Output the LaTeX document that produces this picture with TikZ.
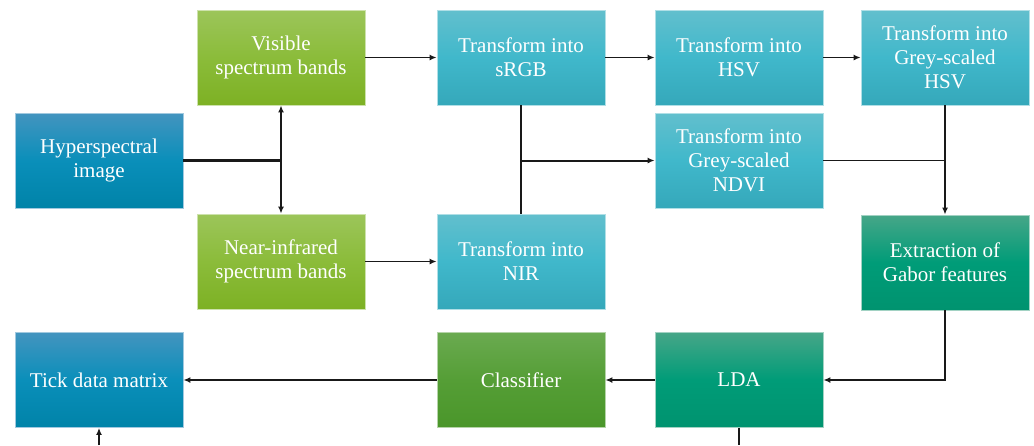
\documentclass[tikz,border=0pt]{standalone}
\usepackage{fontspec}
\setmainfont{Liberation Serif}
\usetikzlibrary{arrows.meta}
\definecolor{bluetop}{HTML}{4394BF}
\definecolor{bluemid}{HTML}{0A8FBA}
\definecolor{bluebot}{HTML}{0083A8}
\definecolor{greentop}{HTML}{9CC55A}
\definecolor{greenmid}{HTML}{8BBC3A}
\definecolor{greenbot}{HTML}{7DB124}
\definecolor{tealtop}{HTML}{62BFCD}
\definecolor{tealmid}{HTML}{40B8CB}
\definecolor{tealbot}{HTML}{35A8BA}
\definecolor{dtealtop}{HTML}{46A688}
\definecolor{dtealmid}{HTML}{009C78}
\definecolor{dtealbot}{HTML}{00936F}
\definecolor{clstop}{HTML}{6AAA50}
\definecolor{clsmid}{HTML}{559E36}
\definecolor{clsbot}{HTML}{4A962A}
\tikzset{
  box/.style={rectangle, minimum width=168pt, minimum height=95pt, inner sep=2pt,
    align=center, text=white, font=\fontsize{21}{24}\selectfont, line width=0.8pt},
  bluebox/.style={box, draw=bluetop!50!white, top color=bluetop, bottom color=bluebot, middle color=bluemid},
  greenbox/.style={box, draw=greentop!50!white, top color=greentop, bottom color=greenbot, middle color=greenmid},
  tealbox/.style={box, draw=tealtop!50!white, top color=tealtop, bottom color=tealbot, middle color=tealmid},
  dtealbox/.style={box, draw=dtealtop!50!white, top color=dtealtop, bottom color=dtealbot, middle color=dtealmid},
  clsbox/.style={box, draw=clstop!50!white, top color=clstop, bottom color=clsbot, middle color=clsmid},
  conn/.style={line width=1.6pt, black!90},
  arr/.style={conn, -{Latex[length=7pt,width=6pt]}}
}
\begin{document}
\begin{tikzpicture}[x=1pt,y=-1pt]
\useasboundingbox (0,0) rectangle (1034,445);
\node[bluebox] (hyp) at (99,160.5) {Hyperspectral\\image};
\node[greenbox] (vis) at (281,57.5) {Visible\\spectrum bands};
\node[greenbox] (nirb) at (281,261.5) {Near-infrared\\spectrum bands};
\node[tealbox] (srgb) at (521,57.5) {Transform into\\sRGB};
\node[tealbox] (hsv) at (739,57.5) {Transform into\\HSV};
\node[tealbox] (ghsv) at (945,57.5) {Transform into\\Grey-scaled\\HSV};
\node[tealbox] (ndvi) at (739,160.5) {Transform into\\Grey-scaled\\NDVI};
\node[tealbox] (nir) at (521,261.5) {Transform into\\NIR};
\node[dtealbox] (gabor) at (945,262.5) {Extraction of\\Gabor features};
\node[bluebox] (tick) at (99,380) {Tick data matrix};
\node[clsbox] (cls) at (521,380) {Classifier};
\node[dtealbox] (lda) at (739,380) {LDA};
% hyperspectral split
\coordinate (j1) at (vis.south |- hyp.east);
\draw[conn, line width=2.2pt] (hyp.east) -- (j1);
\draw[arr] (j1) -- (vis.south);
\draw[arr] (j1) -- (nirb.north);
% top row
\draw[arr] (vis) -- (srgb);
\draw[arr] (srgb) -- (hsv);
\draw[arr] (hsv) -- (ghsv);
\draw[arr] (nirb) -- (nir);
% sRGB + NIR to NDVI
\draw[conn] (srgb.south) -- (nir.north);
\coordinate (j2) at (srgb.south |- ndvi.west);
\draw[arr, line width=2pt] (j2) -- (ndvi.west);
% to Gabor
\draw[arr] (ghsv.south) -- (gabor.north);
\coordinate (j3) at (ndvi.east -| ghsv.south);
\draw[conn] (ndvi.east) -- (j3);
% bottom row
\draw[arr] (gabor.south) |- (lda.east);
\draw[arr] (lda) -- (cls);
\draw[arr] (cls) -- (tick);
\coordinate (b1) at (99,445);
\coordinate (b2) at (739,445);
\draw[arr] (b1) -- (tick.south);
\draw[conn] (lda.south) -- (b2);
\end{tikzpicture}
\end{document}
